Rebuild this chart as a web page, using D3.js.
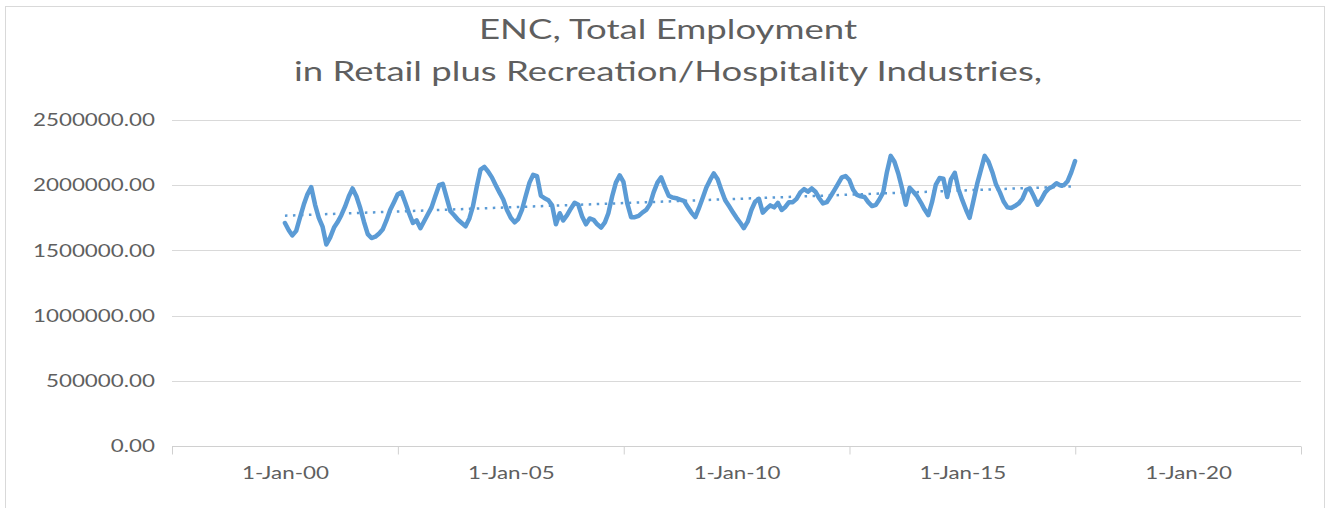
<!DOCTYPE html>
<html>
<head>
<meta charset="utf-8">
<script src="https://cdn.jsdelivr.net/npm/d3@7"></script>
<style>
  html, body { margin: 0; padding: 0; background: #ffffff; }
  svg { display: block; }
  text { font-family: Lato, "Open Sans", sans-serif; fill: #5f5f5f; }
</style>
</head>
<body>
<svg id="chart" width="1329" height="508"></svg>
<script>
// Chart title (two lines)
const titleLines = [
  "ENC, Total Employment",
  "in Retail plus Recreation/Hospitality Industries,"
];

// Monthly series starts January 2000
const seriesStart = new Date(2000, 0, 1);

// Total employment, thousands, one value per month (Jan 2000 – Jul 2017)
const employmentThousands = [
  // 2000
  1710, 1655, 1615, 1650, 1750, 1850, 1930, 1985, 1850, 1750, 1680, 1545,
  // 2001
  1600, 1675, 1715, 1770, 1835, 1915, 1975, 1915, 1825, 1720, 1625, 1595,
  // 2002
  1605, 1630, 1660, 1730, 1810, 1870, 1930, 1945, 1865, 1785, 1710, 1730,
  // 2003
  1670, 1725, 1775, 1830, 1915, 2000, 2010, 1905, 1800, 1770, 1735, 1710,
  // 2004
  1685, 1745, 1840, 1990, 2120, 2140, 2105, 2060, 2000, 1945, 1890, 1810,
  // 2005
  1750, 1715, 1740, 1810, 1915, 2020, 2080, 2070, 1920, 1900, 1885, 1845,
  // 2006
  1700, 1785, 1730, 1770, 1820, 1865, 1850, 1760, 1700, 1745, 1735, 1700,
  // 2007
  1675, 1715, 1785, 1915, 2020, 2075, 2025, 1860, 1755, 1755, 1765, 1790,
  // 2008
  1810, 1855, 1945, 2020, 2060, 1985, 1920, 1905, 1900, 1890, 1880, 1835,
  // 2009
  1790, 1755, 1820, 1900, 1980, 2040, 2090, 2045, 1960, 1885, 1840, 1795,
  // 2010
  1750, 1710, 1670, 1720, 1810, 1875, 1895, 1790, 1820, 1845, 1830, 1865,
  // 2011
  1810, 1835, 1870, 1870, 1895, 1945, 1970, 1950, 1975, 1950, 1900, 1860,
  // 2012
  1870, 1915, 1960, 2010, 2060, 2070, 2040, 1965, 1925, 1915, 1910, 1870,
  // 2013
  1840, 1850, 1890, 1945, 2100, 2225, 2180, 2090, 1975, 1850, 1980, 1950,
  // 2014
  1915, 1865, 1815, 1770, 1870, 2005, 2055, 2050, 1910, 2045, 2095, 1970,
  // 2015
  1885, 1810, 1750, 1880, 2010, 2120, 2225, 2180, 2100, 2005, 1945, 1875,
  // 2016
  1830, 1825, 1840, 1860, 1895, 1965, 1975, 1915, 1850, 1890, 1945, 1975,
  // 2017
  1990, 2015, 2000, 2000, 2030, 2100, 2185
];

// Axis ticks
const yTicks = [0, 500000, 1000000, 1500000, 2000000, 2500000];
const xLabelYears = [2000, 2005, 2010, 2015, 2020];

const data = employmentThousands.map((v, i) => ({
  date: d3.timeMonth.offset(seriesStart, i),
  value: v * 1000
}));

const svg = d3.select("#chart");

// Outer chart frame
svg.append("rect")
  .attr("x", 5.5).attr("y", 6.5)
  .attr("width", 1319).attr("height", 510)
  .attr("fill", "#ffffff")
  .attr("stroke", "#d9d9d9").attr("stroke-width", 1);

// Plot area
const plot = { left: 172, right: 1301, top: 120, bottom: 446 };

const labelDates = xLabelYears.map(y => new Date(y, 0, 1));
// Axis spans half an interval either side of the labelled dates
const halfStep = (labelDates[1] - labelDates[0]) / 2;
const x = d3.scaleTime()
  .domain([new Date(+labelDates[0] - halfStep), new Date(+labelDates[labelDates.length - 1] + halfStep)])
  .range([plot.left, plot.right]);

const y = d3.scaleLinear()
  .domain([0, 2500000])
  .range([plot.bottom, plot.top]);

// Horizontal gridlines
svg.append("g")
  .selectAll("line")
  .data(yTicks.filter(d => d > 0))
  .join("line")
  .attr("x1", plot.left).attr("x2", plot.right)
  .attr("y1", d => Math.round(y(d)) + 0.5)
  .attr("y2", d => Math.round(y(d)) + 0.5)
  .attr("stroke", "#d9d9d9").attr("stroke-width", 1);

// Y axis labels
const yAxis = svg.append("g")
  .attr("transform", `translate(${plot.left},0)`)
  .call(d3.axisLeft(y).tickValues(yTicks).tickSize(0).tickPadding(17)
    .tickFormat(d => d3.format(".2f")(d)));
yAxis.select(".domain").remove();
yAxis.selectAll("text")
  .style("font-size", "18px")
  .style("font-family", "Lato, 'Open Sans', sans-serif")
  .attr("fill", "#5f5f5f");

// X axis: line with tick marks between labels
const tickMarks = [x.domain()[0], ...labelDates.map(d => new Date(+d + halfStep))];
const xAxisTicks = svg.append("g")
  .attr("transform", `translate(0,${Math.round(plot.bottom) + 0.5})`)
  .call(d3.axisBottom(x).tickValues(tickMarks).tickSize(8).tickFormat(""));
xAxisTicks.select(".domain").attr("stroke", "#d0d0d0").attr("d", `M${plot.left},0H${plot.right}`);
xAxisTicks.selectAll(".tick line").attr("stroke", "#d0d0d0");

const xAxisLabels = svg.append("g")
  .attr("transform", `translate(0,${plot.bottom})`)
  .call(d3.axisBottom(x).tickValues(labelDates).tickSize(0).tickPadding(20)
    .tickFormat(d3.timeFormat("%-d-%b-%y")));
xAxisLabels.select(".domain").remove();
xAxisLabels.selectAll("text")
  .style("font-size", "18px")
  .style("font-family", "Lato, 'Open Sans', sans-serif")
  .attr("fill", "#5f5f5f");

// Linear trend (least squares on month index)
const n = data.length;
const xs = data.map((d, i) => i);
const meanX = d3.mean(xs), meanY = d3.mean(data, d => d.value);
const slope = d3.sum(data, (d, i) => (i - meanX) * (d.value - meanY)) /
              d3.sum(xs, i => (i - meanX) * (i - meanX));
const intercept = meanY - slope * meanX;
const trend = [0, n - 1].map(i => ({ date: data[i].date, value: intercept + slope * i }));

const line = d3.line().x(d => x(d.date)).y(d => y(d.value));

svg.append("path")
  .datum(data)
  .attr("d", line)
  .attr("fill", "none")
  .attr("stroke", "#5b9bd5")
  .attr("stroke-width", 4.5)
  .attr("stroke-linejoin", "round")
  .attr("stroke-linecap", "round");

svg.append("path")
  .datum(trend)
  .attr("d", line)
  .attr("fill", "none")
  .attr("stroke", "#5b9bd5")
  .attr("stroke-width", 2.5)
  .attr("stroke-dasharray", "2.5,5.5");

// Title
const title = svg.append("g");
title.selectAll("text")
  .data(titleLines)
  .join("text")
  .attr("x", 668)
  .attr("y", (d, i) => 39 + i * 42)
  .attr("text-anchor", "middle")
  .style("font-size", "26px")
  .attr("fill", "#5f5f5f")
  .text(d => d);

// Widen glyphs to the chart's wide lettering
function widen(sel, k) {
  sel.each(function () {
    const w = this.getComputedTextLength();
    this.setAttribute("textLength", w * k);
    this.setAttribute("lengthAdjust", "spacingAndGlyphs");
  });
}
const refTick = yAxis.selectAll("text").filter(d => d === 2500000).node();
const kTick = 122 / refTick.getComputedTextLength();
widen(yAxis.selectAll("text"), kTick);
widen(xAxisLabels.selectAll("text"), kTick);
const kTitle = 378 / title.select("text").node().getComputedTextLength();
widen(title.selectAll("text"), kTitle);
</script>
</body>
</html>
